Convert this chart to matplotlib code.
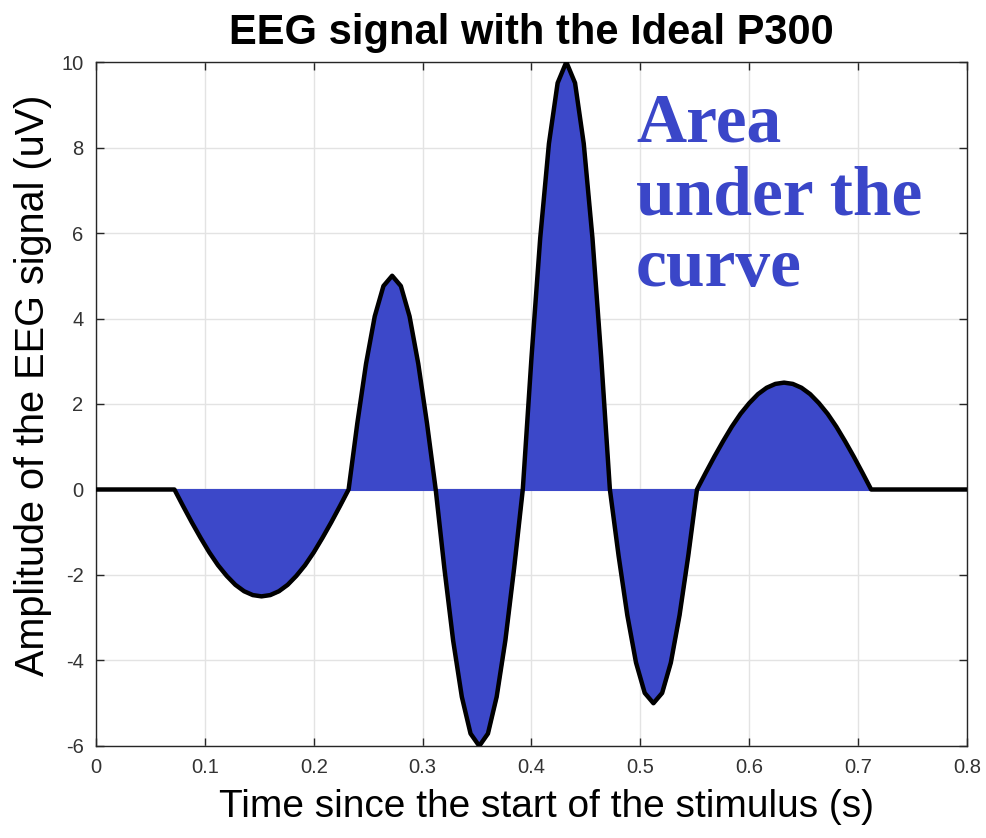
import numpy as np
import matplotlib
matplotlib.use("Agg")
import matplotlib.pyplot as plt

plt.rcParams["axes.unicode_minus"] = False

# Sample times (s), 8 ms sampling interval
time_s = np.round(np.arange(0, 101) * 0.008, 3)

# EEG amplitude (uV) at each sample
amplitude_uv = [
    0, 0, 0, 0, 0, 0, 0, 0, 0,
    # first negative deflection
    0, -0.39, -0.77, -1.13, -1.47, -1.77, -2.02, -2.23, -2.38, -2.47,
    -2.50, -2.47, -2.38, -2.23, -2.02, -1.77, -1.47, -1.13, -0.77, -0.39,
    # positive peak (~5 uV)
    0, 1.55, 2.94, 4.05, 4.76, 5.00, 4.76, 4.05, 2.94, 1.55,
    # negative trough (~-6 uV)
    0, -1.85, -3.53, -4.85, -5.71, -6.00, -5.71, -4.85, -3.53, -1.85,
    # P300 peak (~10 uV)
    0, 3.09, 5.88, 8.09, 9.51, 10.00, 9.51, 8.09, 5.88, 3.09,
    # negative trough (~-5 uV)
    0, -1.55, -2.94, -4.05, -4.76, -5.00, -4.76, -4.05, -2.94, -1.55,
    # late positive wave (~2.5 uV)
    0, 0.39, 0.77, 1.13, 1.47, 1.77, 2.02, 2.23, 2.38, 2.47,
    2.50, 2.47, 2.38, 2.23, 2.02, 1.77, 1.47, 1.13, 0.77, 0.39,
    0, 0, 0, 0, 0, 0, 0, 0, 0, 0, 0, 0,
]

x_ticks = [0, 0.1, 0.2, 0.3, 0.4, 0.5, 0.6, 0.7, 0.8]
x_tick_labels = ["0", "0.1", "0.2", "0.3", "0.4", "0.5", "0.6", "0.7", "0.8"]
y_ticks = [-6, -4, -2, 0, 2, 4, 6, 8, 10]

fill_blue = "#3c48c9"
text_blue = "#3a46c8"

fig = plt.figure(figsize=(9.87, 8.38), dpi=100)
ax = fig.add_axes([0.0973, 0.1098, 0.8824, 0.8162])

ax.fill_between(time_s, 0, amplitude_uv, color=fill_blue, edgecolor=fill_blue,
                linewidth=1.5, zorder=2)
ax.plot(time_s, amplitude_uv, color="black", linewidth=3.2, zorder=3,
        solid_joinstyle="round")

ax.set_xlim(0, 0.8)
ax.set_ylim(-6, 10)
ax.set_xticks(x_ticks)
ax.set_xticklabels(x_tick_labels)
ax.set_yticks(y_ticks)
ax.grid(True, color="#e3e3e3", linewidth=1.0, zorder=0)
ax.set_axisbelow(True)

ax.tick_params(direction="in", top=True, right=True, length=6, width=1,
               colors="#262626", labelsize=14.5, pad=9)
for lbl in ax.get_xticklabels() + ax.get_yticklabels():
    lbl.set_family("Liberation Sans")
    lbl.set_color("#333333")
for sp in ax.spines.values():
    sp.set_color("#262626")
    sp.set_linewidth(1.0)

ax.set_title("EEG signal with the Ideal P300", fontsize=30, fontweight="bold",
             family="Liberation Sans", pad=13)
ax.set_xlabel("Time since the start of the stimulus (s)", fontsize=28,
              family="Liberation Sans")
ax.xaxis.set_label_coords(0.517, -0.063)
ax.set_ylabel("Amplitude of the EEG signal (uV)", fontsize=28.5,
              family="Liberation Sans")
ax.yaxis.set_label_coords(-0.05, 0.527)

ax.text(0.496, 9.28, "Area\nunder the\ncurve", color=text_blue, fontsize=50,
        fontweight="bold", family="Liberation Serif", ha="left", va="top",
        linespacing=1.17, zorder=4)

fig.savefig("out.png", dpi=100)
